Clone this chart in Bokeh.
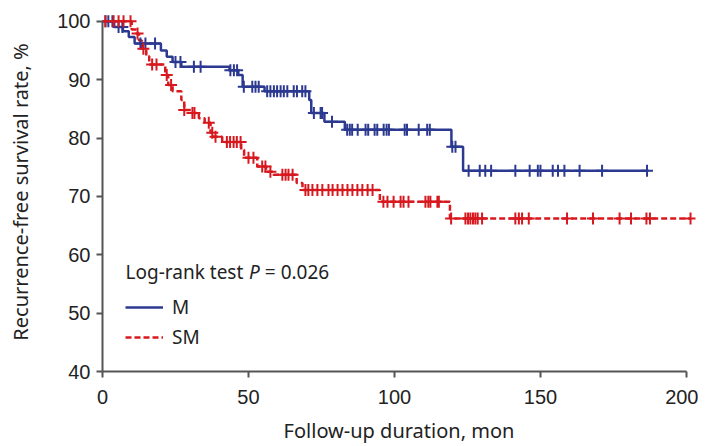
import numpy as np
from bokeh.plotting import figure
from bokeh.models import Range1d, FixedTicker, Legend, LegendItem, Label
from bokeh.embed import file_html
from bokeh.resources import INLINE

# ---- data ----
m_times = [0, 4, 7, 9, 11, 20, 22, 24, 27, 43.5, 46.5, 48, 55.5, 70.8, 71.5, 76, 83, 119.5, 123.5]
m_surv = [100, 99.0, 98.3, 97.3, 96.2, 95.0, 93.9, 93.0, 92.2, 91.6, 90.8, 88.8, 88.0, 86.5, 84.3, 82.8, 81.4, 78.5, 74.4]
m_end = 187
m_censor = [1, 2, 3.4, 5.5, 6.8, 13, 14.7, 18, 25, 26.7, 31.3, 33.6, 43.8, 45, 46.1, 48.4, 51.3, 52.4,
            53.5, 56.4, 57.5, 58.7, 59.8, 61, 62.1, 63.3, 65.5, 66.6, 68.4, 69.5, 72.4, 74.7, 75.2, 78.6,
            83.8, 84.7, 85.5, 87.4, 90.1, 91, 93.2, 94.1, 96.3, 97.3, 98.1, 103.5, 104.3, 108.3, 111.2,
            112.1, 119.8, 120.9, 125.4, 129.2, 131.1, 133.1, 141.4, 146.3, 149.1, 150, 154.2, 156, 158.2,
            163.4, 171.1, 186.5]

sm_times = [0, 10, 11.5, 12.5, 13.5, 15, 16, 21.5, 22.5, 24, 27, 28, 30.5, 33, 35, 37, 38, 41, 47.5,
            48.5, 53, 56, 58.5, 66.5, 68.5, 95, 119]
sm_surv = [100, 98.6, 97.9, 96.7, 95.3, 94.0, 92.6, 90.8, 89.1, 88.0, 86.5, 84.8, 84.3, 83.4, 82.6,
           80.9, 80.2, 79.3, 78.0, 76.6, 75.1, 74.2, 73.7, 72.3, 71.1, 69.1, 66.2]
sm_end = 201.4
sm_censor = [1, 3.8, 5.5, 7.2, 9.6, 12, 14, 17, 18.5, 22, 23.5, 28, 30.8, 31.5, 36.4, 37.6, 38.7, 42.6,
             43.7, 44.9, 46, 47.3, 50, 51.7, 54.7, 55.8, 57.5, 61.6, 62.7, 63.7, 65.1, 69.5, 70.5, 71.9,
             73.6, 75.3, 77.4, 78.8, 80.5, 82.2, 83.9, 85.6, 87.3, 89, 90.8, 92.5, 96.2, 97.6, 99.7, 102.1,
             103.1, 104.8, 110.6, 111.6, 112.3, 114.7, 115.2, 119.4, 124.3, 125.2, 126, 126.9, 127.7,
             128.5, 130, 141.4, 142.6, 143.7, 146, 159.1, 168, 177.1, 181, 186.3, 187.5, 201.4]

x_ticks = [0, 50, 100, 150, 200]
y_ticks = [40, 50, 60, 70, 80, 90, 100]
group_labels = ["M", "SM"]
stat_text = ["Log-rank test", "P", "= 0.026"]

BLUE = "#2b3990"
RED = "#d7191f"
AX = "#555555"
TFONT = "Liberation Sans"
LFONT = "Noto Sans"


def step_value(times, surv, t):
    idx = np.searchsorted(np.asarray(times), np.asarray(t), side="right") - 1
    return np.asarray(surv)[idx]


p = figure(width=698, height=446, output_backend="svg", toolbar_location=None,
           x_range=Range1d(0, 203.1), y_range=Range1d(40, 101.5),
           min_border_left=102, min_border_right=3, min_border_top=12, min_border_bottom=72)
p.outline_line_color = None
p.grid.visible = False
p.background_fill_color = "white"

# curves
m_x = m_times + [m_end]
m_y = m_surv + [m_surv[-1]]
sm_x = sm_times + [sm_end]
sm_y = sm_surv + [sm_surv[-1]]

r_m = p.step(m_x, m_y, mode="after", line_color=BLUE, line_width=2.5)
r_sm = p.step(sm_x, sm_y, mode="after", line_color=RED, line_width=2.5, line_dash="6 3")

p.scatter(m_censor, step_value(m_times, m_surv, m_censor), marker="cross", size=12,
          line_color=BLUE, line_width=2)
p.scatter(sm_censor, step_value(sm_times, sm_surv, sm_censor), marker="cross", size=12,
          line_color=RED, line_width=2)

# axes
for ax in (p.xaxis[0], p.yaxis[0]):
    ax.axis_line_color = AX
    ax.axis_line_width = 2
    ax.major_tick_line_color = AX
    ax.major_tick_line_width = 2
    ax.major_tick_out = 6
    ax.major_tick_in = 0
    ax.minor_tick_line_color = None
    ax.major_label_text_font = TFONT
    ax.major_label_text_font_size = "20px"
    ax.major_label_text_color = "#222222"
    ax.axis_label_text_font = LFONT
    ax.axis_label_text_font_size = "20px"
    ax.axis_label_text_font_style = "normal"
    ax.axis_label_text_color = "#222222"

p.xaxis.ticker = FixedTicker(ticks=x_ticks)
p.yaxis.ticker = FixedTicker(ticks=y_ticks)
p.xaxis.bounds = (0, 200)
p.yaxis.bounds = (40, 100)
p.xaxis.axis_label = "Follow-up duration, mon"
p.yaxis.axis_label = "Recurrence-free survival rate, %"
p.xaxis.major_label_standoff = 12
p.yaxis.major_label_standoff = 6
p.xaxis.axis_label_standoff = 10
p.yaxis.axis_label_standoff = 20

# statistics text
lab_y = 57.1
p.add_layout(Label(x=7.9, y=lab_y, text=stat_text[0], text_font=LFONT, text_font_size="19px",
                   text_color="#222222", text_baseline="middle"))
p.add_layout(Label(x=50.2, y=lab_y, text=stat_text[1], text_font=LFONT, text_font_size="19px",
                   text_font_style="italic", text_color="#222222", text_baseline="middle"))
p.add_layout(Label(x=55.6, y=lab_y, text=stat_text[2], text_font=LFONT, text_font_size="19px",
                   text_color="#222222", text_baseline="middle"))

legend = Legend(items=[LegendItem(label=group_labels[0], renderers=[r_m]),
                       LegendItem(label=group_labels[1], renderers=[r_sm])],
                location=(23, 21), orientation="vertical")
legend.border_line_color = None
legend.background_fill_alpha = 0
legend.padding = 0
legend.margin = 0
legend.spacing = 4
legend.glyph_width = 38
legend.glyph_height = 20
legend.label_height = 20
legend.label_standoff = 9
legend.label_text_font = LFONT
legend.label_text_font_size = "19px"
legend.label_text_color = "#222222"
p.add_layout(legend)

open("out.html", "w").write(file_html(p, INLINE))
